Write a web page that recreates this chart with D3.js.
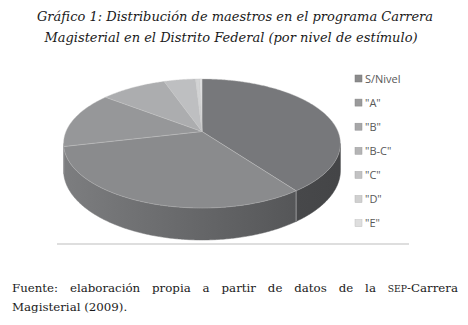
<!DOCTYPE html>
<html lang="es">
<head>
<meta charset="utf-8">
<script src="https://cdnjs.cloudflare.com/ajax/libs/d3/7.8.5/d3.min.js"></script>
<style>
  body { margin: 0; background: #fff; }
  svg { display: block; }
</style>
</head>
<body>
<svg id="chart"></svg>
<script>
// data (share of teachers, %)
var categories = ["S/Nivel", "\"A\"", "\"B\"", "\"B-C\"", "\"C\"", "\"D\"", "\"E\""];
var values = [40.0, 31.3, 14.2, 9.2, 4.4, 0.6, 0.3];
var topColors = ["#77787b", "#8a8b8d", "#969799", "#acadaf", "#bebfc1", "#d2d3d4", "#e4e4e5"];
var legendColors = ["#8b8b8c", "#9a9a9b", "#a7a7a8", "#b4b4b5", "#c2c2c3", "#d0d0d0", "#dedede"];
var sideColors = [["#58595b", "#444547"], ["#7c7d7f", "#4e4f51"], ["#8a8a8c", "#6a6a6c"],
                  ["#9a9a9c", "#7a7a7c"], ["#aaaaac", "#8a8a8c"], ["#bbb", "#999"], ["#ccc", "#aaa"]];
var titleLines = ["Gráfico 1: Distribución de maestros en el programa Carrera",
                  "Magisterial en el Distrito Federal (por nivel de estímulo)"];

var W = 468, H = 325;
var svg = d3.select("#chart").attr("width", W).attr("height", H);

// perspective disc: center, radii, depth, foreshortening
var cx = 202, cy = 131.5, a = 136, b = 62.3, k = 0.186, depth = 26;

function proj(t, h) {
  var u = Math.sin(t), v = Math.cos(t);
  var s = 1 + k * v;
  return [cx + a * u / s, cy - b * v / s + h / s];
}

var pie = d3.pie().sort(null).startAngle(0).endAngle(2 * Math.PI);
var arcs = pie(values);

function rimPoints(t0, t1, h) {
  var n = Math.max(2, Math.ceil((t1 - t0) / 0.01));
  return d3.range(n + 1).map(function(i) { return proj(t0 + (t1 - t0) * i / n, h); });
}

// gradients for the side walls
var defs = svg.append("defs");
sideColors.forEach(function(c, i) {
  var g = defs.append("linearGradient").attr("id", "side" + i)
    .attr("gradientUnits", "userSpaceOnUse")
    .attr("x1", cx - a).attr("x2", cx + a).attr("y1", 0).attr("y2", 0);
  g.append("stop").attr("offset", 0).attr("stop-color", c[0]);
  g.append("stop").attr("offset", 1).attr("stop-color", c[1]);
});

// base line below the pie
svg.append("line")
  .attr("x1", 57).attr("x2", 409).attr("y1", 244).attr("y2", 244)
  .attr("stroke", "#bdbdbd").attr("stroke-width", 1);

// visible part of the outer wall (front half, widened by perspective)
var tL = Math.PI / 2 + Math.asin(k), tR = 3 * Math.PI / 2 - Math.asin(k);
var line = d3.line();

arcs.forEach(function(d, i) {
  var s0 = Math.max(d.startAngle, tL), s1 = Math.min(d.endAngle, tR);
  if (s1 <= s0) return;
  var pts = rimPoints(s0, s1, 0).concat(rimPoints(s0, s1, depth).reverse());
  svg.append("path").attr("d", line(pts) + "Z")
    .attr("fill", "url(#side" + i + ")")
    .attr("stroke", "url(#side" + i + ")").attr("stroke-width", 0.5);
});

// light seams where slices meet on the wall
arcs.forEach(function(d) {
  var t = d.startAngle;
  if (t > tL && t < tR) {
    var p0 = proj(t, 0), p1 = proj(t, depth);
    svg.append("line").attr("x1", p0[0]).attr("y1", p0[1]).attr("x2", p1[0]).attr("y2", p1[1])
      .attr("stroke", "#a9a9ab").attr("stroke-width", 0.8);
  }
});

// top faces
arcs.forEach(function(d, i) {
  var pts = [[cx, cy]].concat(rimPoints(d.startAngle, d.endAngle, 0));
  svg.append("path").attr("d", line(pts) + "Z")
    .attr("fill", topColors[i])
    .attr("stroke", "#c4c4c6").attr("stroke-width", 0.4).attr("stroke-linejoin", "round");
});

// legend
var legend = svg.append("g").attr("transform", "translate(355,75)");
categories.forEach(function(c, i) {
  var y = i * 24.1;
  legend.append("rect").attr("x", 0).attr("y", y).attr("width", 7).attr("height", 7)
    .attr("fill", legendColors[i]).attr("stroke", d3.color(legendColors[i]).darker(0.4)).attr("stroke-width", 0.5);
  legend.append("text").attr("x", 10).attr("y", y + 7.5)
    .attr("font-family", "'Open Sans', sans-serif").attr("font-size", 11)
    .attr("fill", "#595959").text(c);
});

// title
titleLines.forEach(function(t, i) {
  svg.append("text").attr("x", i === 0 ? 235 : 231).attr("y", 21 + i * 21)
    .attr("text-anchor", "middle")
    .attr("font-family", "'DejaVu Serif', serif").attr("font-style", "italic")
    .attr("font-size", 13).attr("fill", "#1a1a1a").text(t);
});

// source note, first line justified to the full width by stretching word gaps
var f1 = svg.append("text").attr("x", 12).attr("y", 292)
  .attr("font-family", "'DejaVu Serif', serif").attr("font-size", 11.8).attr("fill", "#1a1a1a");
f1.append("tspan").text("Fuente: elaboración propia a partir de datos de la ");
f1.append("tspan").attr("font-size", 9.2).text("SEP");
f1.append("tspan").text("-Carrera");
var natural = f1.node().getComputedTextLength();
f1.attr("word-spacing", (446 - natural) / 9);
svg.append("text").attr("x", 12).attr("y", 311)
  .attr("font-family", "'DejaVu Serif', serif").attr("font-size", 11.8).attr("fill", "#1a1a1a")
  .text("Magisterial (2009).");
</script>
</body>
</html>
